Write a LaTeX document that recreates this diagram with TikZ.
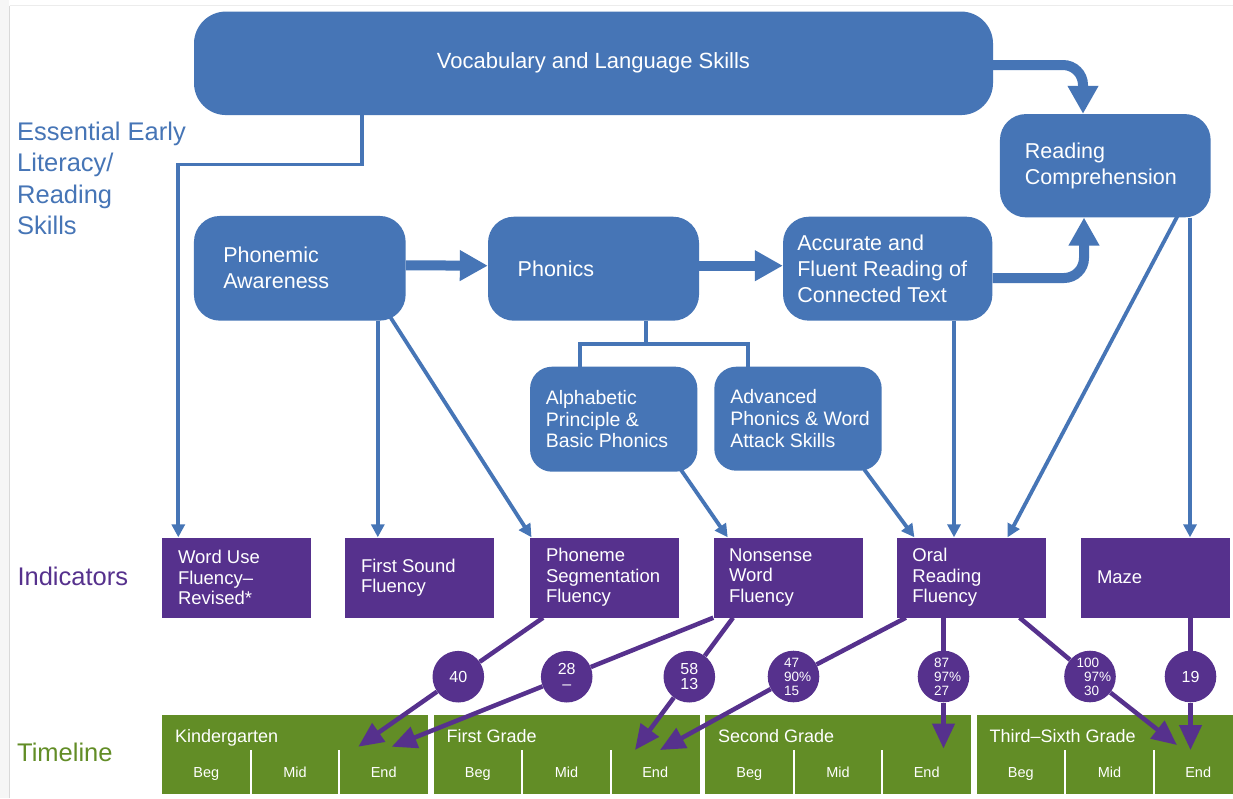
\documentclass[tikz,border=0pt]{standalone}
\usepackage{fontspec}
\setmainfont{Liberation Sans}
\usetikzlibrary{arrows.meta,calc}
\definecolor{dblue}{RGB}{70,117,182}
\definecolor{dpurple}{RGB}{86,49,141}
\definecolor{dgreen}{RGB}{98,141,38}
\tikzset{
 bbox/.style={fill=dblue, rounded corners=26pt, inner sep=0pt},
 btext/.style={text=white, inner sep=0pt, align=left, anchor=west, font=\fontsize{21.5}{26}\selectfont},
 bstext/.style={btext, font=\fontsize{19.5}{21.8}\selectfont},
 ibox/.style={fill=dpurple, inner sep=0pt, minimum width=149pt, minimum height=80pt},
 itext/.style={text=white, inner sep=0pt, align=left, anchor=west, font=\fontsize{18.5}{20.3}\selectfont},
 cnode/.style={circle, fill=dpurple, minimum size=51.6pt, inner sep=0pt, text=white, align=center, font=\fontsize{16}{15.3}\selectfont},
 cthree/.style={cnode, align=left, font=\fontsize{13.5}{14}\selectfont},
 bline/.style={draw=dblue, line width=3.8pt},
 barrow/.style={bline, -{Triangle[length=13pt,width=13pt]}},
 fatarrow/.style={draw=dblue, line width=10pt, -{Triangle[length=28pt,width=29pt]}},
 pline/.style={draw=dpurple, line width=4.5pt},
 parrow/.style={pline, -{Triangle[length=25pt,width=22pt]}},
 gbar/.style={fill=dgreen, inner sep=0pt, minimum width=266pt, minimum height=79pt, anchor=north west},
 gtitle/.style={text=white, inner sep=0pt, anchor=base west, font=\fontsize{18}{21}\selectfont},
 gsub/.style={text=white, inner sep=0pt, anchor=base, font=\fontsize{14.5}{17}\selectfont},
 lbl/.style={inner sep=0pt, align=left, font=\fontsize{25.5}{31.6}\selectfont},
 divider/.style={draw=white, line width=2pt},
}
\begin{document}
\begin{tikzpicture}[x=1pt,y=-1pt]
\clip (0,0) rectangle (1233,798);
\fill[white] (0,0) rectangle (1233,798);
\fill[gray!7] (0,0) rectangle (9,798);
\draw[gray!30, line width=1pt] (9.5,5.5) -- (9.5,798);
\draw[gray!15, line width=1pt] (9.5,5.5) -- (1233,5.5);

% timeline bars
\foreach \n/\x/\t in {k/162/Kindergarten, a/433.5/First Grade, b/705/Second Grade, c/976.5/Third–Sixth Grade} {
  \node[gbar] (g\n) at (\x,715) {};
  \node[gtitle] (g\n-t) at (\x+13,742.7) {\t};
  \draw[divider] (\x+88.7,750) -- (\x+88.7,795);
  \draw[divider] (\x+177.3,750) -- (\x+177.3,795);
  \node[gsub] (g\n-b) at (\x+44.3,777.7) {Beg};
  \node[gsub] (g\n-m) at (\x+133,777.7) {Mid};
  \node[gsub] (g\n-e) at (\x+221.7,777.7) {End};
}

% skill boxes
\node[bbox, rounded corners=32pt, minimum width=799pt, minimum height=103.5pt, text=white, font=\fontsize{22}{26}\selectfont] (voc) at (593.5,63.3) {Vocabulary and Language Skills};
\node[bbox, minimum width=211.7pt, minimum height=104.7pt] (pa) at (299.8,268.3) {};
\node[btext] (pat) at ([xshift=29.3pt]pa.west) {Phonemic\\Awareness};
\node[bbox, minimum width=211pt, minimum height=104pt] (ph) at (593.5,268.7) {};
\node[btext] (pht) at ([xshift=29.7pt]ph.west) {Phonics};
\node[bbox, minimum width=209.3pt, minimum height=104pt] (acc) at (887.7,268.7) {};
\node[btext] (acct) at ([xshift=14.3pt]acc.west) {Accurate and\\Fluent Reading of\\Connected Text};
\node[bbox, minimum width=210.7pt, minimum height=103.3pt] (rc) at (1105.3,165.7) {};
\node[btext] (rct) at ([xshift=25pt]rc.west) {Reading\\Comprehension};
\node[bbox, rounded corners=22pt, minimum width=167.3pt, minimum height=105pt] (al) at (613.7,419.2) {};
\node[bstext] (alt) at ([xshift=15.7pt]al.west) {Alphabetic\\Principle \&\\Basic Phonics};
\node[bbox, rounded corners=22pt, minimum width=167.4pt, minimum height=104pt] (ad) at (798,418.7) {};
\node[bstext] (adt) at ([xshift=16pt]ad.west) {Advanced\\Phonics \& Word\\Attack Skills};

% indicators
\node[ibox] (wu) at (236.5,577.5) {};
\node[itext] (wut) at ([xshift=16pt]wu.west) {Word Use\\Fluency–\\Revised*};
\node[ibox] (fs) at (419.5,577.5) {};
\node[itext] (fst) at ([xshift=16pt]fs.west) {First Sound\\Fluency};
\node[ibox] (psf) at (604.5,577.5) {};
\node[itext] (psft) at ([xshift=16pt]psf.west) {Phoneme\\Segmentation\\Fluency};
\node[ibox] (nwf) at (788,577.5) {};
\node[itext] (nwft) at ([xshift=15.5pt]nwf.west) {Nonsense\\Word\\Fluency};
\node[ibox] (orf) at (971.9,577.5) {};
\node[itext] (orft) at ([xshift=15pt]orf.west) {Oral\\Reading\\Fluency};
\node[ibox] (maze) at (1155.5,577.5) {};
\node[itext] (mazet) at ([xshift=16pt]maze.west) {Maze};

% row labels
\node[lbl, text=dblue, anchor=north west] (ees) at (17,121.5) {Essential Early\\Literacy/\\Reading\\Skills};
\node[lbl, text=dpurple, anchor=base west] (ind) at (17.3,585) {Indicators};
\node[lbl, text=dgreen, anchor=base west] (tl) at (17,761.7) {Timeline};

% benchmark circles
\node[cnode] (c40) at (458.3,676.7) {40};
\node[cnode] (c28) at (566.7,676.7) {28\\–};
\node[cnode] (c58) at (689.3,676.7) {58\\13};
\node[cthree, text width=18.6pt] (c47) at (793.5,676.5) {47\\90\%\\15};
\node[cthree, text width=18.6pt] (c87) at (943.5,676.5) {87\\97\%\\27};
\node[cthree, text width=12pt] (c100) at (1090,676.5) {\hspace*{-7.5pt}100\\97\%\\30};
\node[cnode] (c19) at (1190.5,676.5) {19};

% arrow end points on the timeline
\coordinate (tk1) at (358.3,746.7);
\coordinate (tk2) at (391.7,746.7);
\coordinate (ta1) at (635,750);
\coordinate (ta2) at (660,750);
\coordinate (tb1) at (943.5,748.5);
\coordinate (tc1) at (1177,745);
\coordinate (tc2) at (1190.5,750);

% blue connectors
\draw[barrow] ([xshift=-231.5pt]voc.south) -- ++(0,49.2) -| ([xshift=-58.2pt]wu.north);
\coordinate (pj) at ($(ph.south)+(52.2,23.3)$);
\draw[bline] (ph.south -| pj) -- (pj);
\draw[bline] ([xshift=-33.7pt]al.north) |- (pj) -| ([xshift=-50.3pt]ad.north);
\draw[fatarrow] ([yshift=3pt]pa.east) -- ([yshift=3pt]ph.west);
\draw[fatarrow] ([yshift=3pt]ph.east) -- ([yshift=3pt]acc.west);
\draw[fatarrow, rounded corners=20pt] ([yshift=-9.3pt]acc.east) -| ([xshift=-21.3pt]rc.south);
\draw[fatarrow, rounded corners=20pt] ([yshift=-1.7pt]voc.east) -| ([xshift=-22.3pt]rc.north);
\draw[barrow] ([xshift=78pt]pa.south) -- ([xshift=78pt]pa.south |- fs.north);
\draw[barrow] ($(pa.south east)+(-15.7,-4)$) -- ($(psf.north west)+(1.7,0)$);
\draw[barrow] ($(al.south east)+(-16.3,-1.7)$) -- ($(nwf.north west)+(14.4,0)$);
\draw[barrow] ($(ad.south east)+(-18.4,-2.4)$) -- ($(orf.north west)+(17.2,0)$);
\draw[barrow] ([xshift=66.3pt]acc.south) -- ([xshift=66.3pt]acc.south |- orf.north);
\draw[barrow] ($(rc.south east)+(-33.4,-1.5)$) -- ($(orf.north east)+(-39,0)$);
\draw[barrow] ([xshift=84.7pt]rc.south) -- ([xshift=84.7pt]rc.south |- maze.north);

% purple connectors
\draw[pline] ($(psf.south west)+(13.3,0)$) -- (c40);
\draw[parrow] (c40) -- (tk1);
\draw[pline] (nwf.south west) -- (c28);
\draw[parrow] (c28) -- (tk2);
\draw[pline] ($(nwf.south west)+(19.7,0)$) -- (c58);
\draw[parrow] (c58) -- (ta1);
\draw[pline] ($(orf.south west)+(8.7,0)$) -- (c47);
\draw[parrow] (c47) -- (ta2);
\draw[pline] ($(orf.south)+(-28.4,0)$) -- (c87);
\draw[parrow] (c87) -- (tb1);
\draw[pline] ($(orf.south east)+(-27,0)$) -- (c100);
\draw[parrow] (c100) -- (tc1);
\draw[pline] ($(maze.south)+(35,0)$) -- (c19);
\draw[parrow] (c19) -- (tc2);
\end{tikzpicture}
\end{document}
